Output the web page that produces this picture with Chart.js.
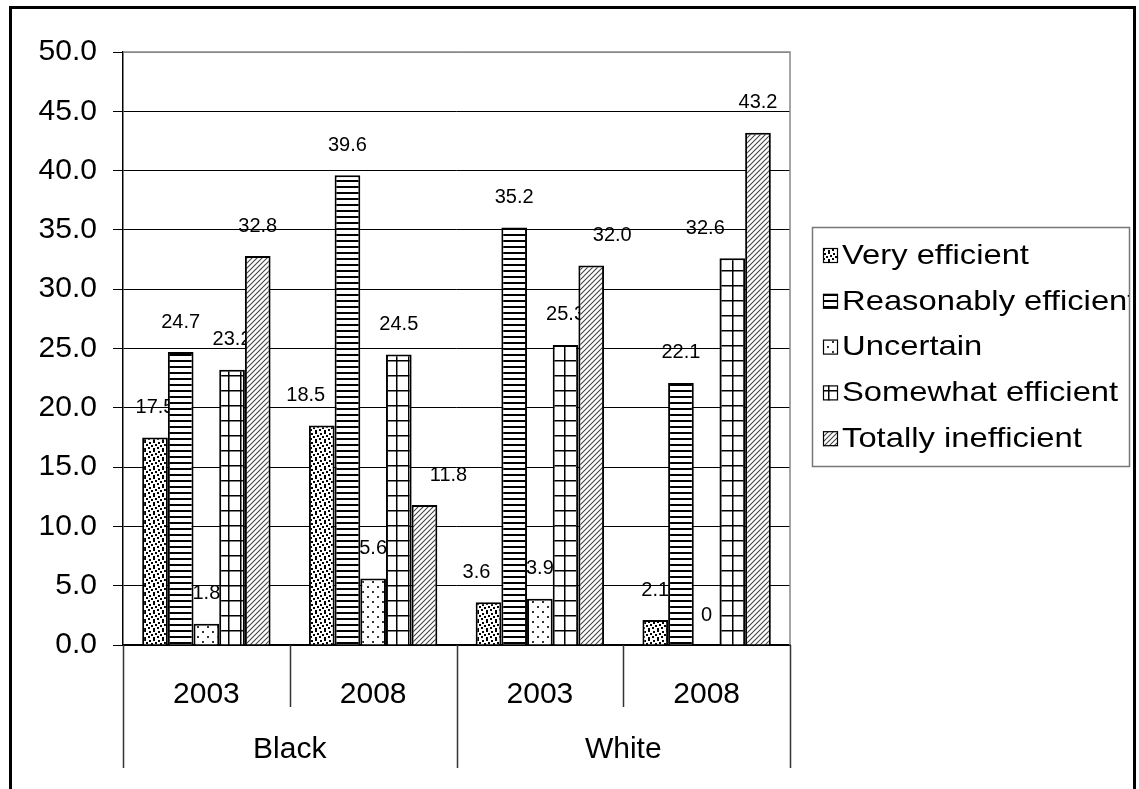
<!DOCTYPE html>
<html>
<head>
<meta charset="utf-8">
<script src="https://cdn.jsdelivr.net/npm/chart.js@4.4.1/dist/chart.umd.min.js"></script>
<style>
  html, body { margin: 0; padding: 0; background: #fff; }
  #wrap { position: absolute; left: 0; top: 0; width: 1139px; height: 789px; }
</style>
</head>
<body>
<div id="wrap"><canvas id="chart" width="1139" height="789"></canvas></div>
<script>
// categories: year inside each population group
var years = ['2003', '2008', '2003', '2008'];
var groups = ['Black', 'White'];

var seriesNames = ['Very efficient', 'Reasonably efficient', 'Uncertain', 'Somewhat efficient', 'Totally inefficient'];
var veryEfficient = [17.5, 18.5, 3.6, 2.1];
var reasonablyEfficient = [24.7, 39.6, 35.2, 22.1];
var uncertain = [1.8, 5.6, 3.9, 0];
var somewhatEfficient = [23.2, 24.5, 25.3, 32.6];
var totallyInefficient = [32.8, 11.8, 32.0, 43.2];

var yTicks = [0, 5, 10, 15, 20, 25, 30, 35, 40, 45, 50];

// small tiles used as black & white fill patterns
function makeTile(w, h, draw) {
    var c = document.createElement('canvas');
    c.width = w;
    c.height = h;
    var g = c.getContext('2d');
    g.fillStyle = '#fff';
    g.fillRect(0, 0, w, h);
    g.fillStyle = '#000';
    g.strokeStyle = '#000';
    draw(g);
    return document.getElementById('chart').getContext('2d').createPattern(c, 'repeat');
}

var patterns = [
    makeTile(9, 9, function (g) {
        [[0, 0], [5, 1], [2, 3], [7, 4], [4, 6], [0, 7]].forEach(function (p) {
            g.fillRect(p[0], p[1], 2, 2);
        });
    }),
    makeTile(8, 6, function (g) {
        g.fillRect(0, 0, 8, 2);
    }),
    makeTile(10, 10, function (g) {
        g.fillStyle = '#333';
        g.fillRect(2, 1, 2, 2);
        g.fillRect(7, 6, 2, 2);
    }),
    makeTile(12, 15, function (g) {
        g.fillRect(0, 0, 1.5, 15);
        g.fillRect(0, 0, 12, 1.5);
    }),
    makeTile(5, 5, function (g) {
        g.strokeStyle = '#444';
        g.lineWidth = 1.1;
        g.beginPath();
        g.moveTo(-1, 6); g.lineTo(6, -1);
        g.moveTo(-1, 1); g.lineTo(1, -1);
        g.moveTo(4, 6); g.lineTo(6, 4);
        g.stroke();
    })
];

// a few value labels sit off their bar centre
var labelNudge = {
    '0-1': -16,
    '0-2': -12,
    '4-1': 24,
    '4-2': 21,
    '3-3': -27
};

function fmt(v) {
    return v === 0 ? '0' : v.toFixed(1);
}

var valueLabels = {
    id: 'valueLabels',
    beforeDatasetsDraw: function (chart) {
        var ctx = chart.ctx;
        ctx.save();
        ctx.font = '20px "Liberation Sans", Arial, sans-serif';
        ctx.fillStyle = '#000';
        ctx.textAlign = 'center';
        ctx.textBaseline = 'middle';
        chart.data.datasets.forEach(function (ds, di) {
            chart.getDatasetMeta(di).data.forEach(function (bar, i) {
                var dx = labelNudge[di + '-' + i] || 0;
                ctx.fillText(fmt(ds.data[i]), bar.x + dx, bar.y - 30);
            });
        });
        ctx.restore();
    }
};

var frame = {
    id: 'frame',
    beforeDraw: function (chart) {
        var ctx = chart.ctx;
        ctx.save();
        ctx.fillStyle = '#fff';
        ctx.fillRect(0, 0, chart.width, chart.height);
        ctx.restore();
    },
    afterDraw: function (chart) {
        var ctx = chart.ctx;
        var area = chart.chartArea;
        var x = chart.scales.x;
        var half = (x.getPixelForValue(1) - x.getPixelForValue(0)) / 2;
        ctx.save();

        // plot area top and right edges
        ctx.strokeStyle = '#888';
        ctx.lineWidth = 1.5;
        ctx.beginPath();
        ctx.moveTo(area.left, area.top);
        ctx.lineTo(area.right, area.top);
        ctx.lineTo(area.right, area.bottom);
        ctx.stroke();

        // category dividers under the axis, long ones between groups
        ctx.strokeStyle = '#333';
        ctx.lineWidth = 1.5;
        for (var i = 0; i <= years.length; i++) {
            var px = Math.round(x.getPixelForValue(0) - half + i * 2 * half) + 0.5;
            ctx.beginPath();
            ctx.moveTo(px, area.bottom);
            ctx.lineTo(px, i % 2 === 0 ? 768 : 707);
            ctx.stroke();
        }

        // group names
        ctx.fillStyle = '#000';
        ctx.font = '30px "Liberation Sans", Arial, sans-serif';
        ctx.textAlign = 'center';
        ctx.textBaseline = 'middle';
        groups.forEach(function (name, gi) {
            var cx = (x.getPixelForValue(gi * 2) + x.getPixelForValue(gi * 2 + 1)) / 2;
            ctx.fillText(name, cx, 750);
        });

        // legend box
        var lx = 812, ly = 227, lw = 317, lh = 239;
        ctx.fillStyle = '#fff';
        ctx.fillRect(lx, ly, lw, lh);
        ctx.strokeStyle = '#777';
        ctx.lineWidth = 1.5;
        ctx.strokeRect(lx + 0.5, ly + 0.5, lw, lh);
        ctx.save();
        ctx.beginPath();
        ctx.rect(lx, ly, lw, lh);
        ctx.clip();
        chart.data.datasets.forEach(function (ds, di) {
            var cy = 255 + di * 45.8;
            ctx.fillStyle = ds.backgroundColor;
            ctx.fillRect(823, cy - 7, 15, 15);
            ctx.strokeStyle = '#000';
            ctx.lineWidth = 1.2;
            ctx.strokeRect(823.5, cy - 6.5, 14, 14);
            ctx.save();
            ctx.translate(842, cy);
            ctx.scale(1.17, 1);
            ctx.fillStyle = '#000';
            ctx.font = '28px "Liberation Sans", Arial, sans-serif';
            ctx.textAlign = 'left';
            ctx.textBaseline = 'middle';
            ctx.fillText(ds.label, 0, 1);
            ctx.restore();
        });
        ctx.restore();

        // outer frame
        ctx.strokeStyle = '#000';
        ctx.lineWidth = 3;
        ctx.beginPath();
        ctx.moveTo(10.5, chart.height + 2);
        ctx.lineTo(10.5, 7.5);
        ctx.lineTo(1134.5, 7.5);
        ctx.lineTo(1134.5, chart.height + 2);
        ctx.stroke();
        ctx.restore();
    }
};

var seriesValues = [veryEfficient, reasonablyEfficient, uncertain, somewhatEfficient, totallyInefficient];

var chart = new Chart(document.getElementById('chart').getContext('2d'), {
    type: 'bar',
    data: {
        labels: years,
        datasets: seriesNames.map(function (name, i) {
            return {
                label: name,
                data: seriesValues[i],
                backgroundColor: patterns[i],
                borderColor: '#000',
                borderWidth: 2,
                categoryPercentage: 0.77,
                barPercentage: 1.0
            };
        })
    },
    options: {
        responsive: false,
        animation: false,
        events: [],
        layout: { padding: { top: 52, right: 349, left: 0, bottom: 0 } },
        plugins: {
            legend: { display: false },
            tooltip: { enabled: false }
        },
        scales: {
            x: {
                grid: { display: false },
                border: { display: true, color: '#000', width: 1.5 },
                ticks: {
                    color: '#000',
                    font: { family: '"Liberation Sans", Arial, sans-serif', size: 30 },
                    padding: 24,
                    maxRotation: 0,
                    autoSkip: false
                },
                afterFit: function (scale) { scale.height = 144; }
            },
            y: {
                min: 0,
                max: 50,
                afterBuildTicks: function (scale) {
                    scale.ticks = yTicks.map(function (v) { return { value: v }; });
                },
                grid: {
                    color: function (c) { return c.tick && c.tick.value === 50 ? '#888' : '#000'; },
                    lineWidth: 1,
                    tickLength: 10,
                    tickColor: '#000'
                },
                border: { display: true, color: '#000', width: 1.5 },
                ticks: {
                    color: '#000',
                    font: { family: '"Liberation Sans", Arial, sans-serif', size: 30 },
                    padding: 16,
                    callback: function (v) { return Number(v).toFixed(1); }
                },
                afterFit: function (scale) { scale.width = 123; }
            }
        }
    },
    plugins: [frame, valueLabels]
});
</script>
</body>
</html>
